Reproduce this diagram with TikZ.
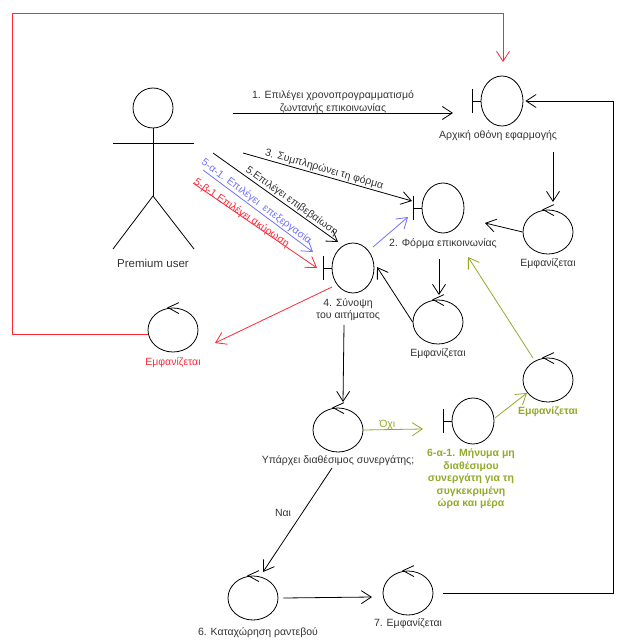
\documentclass[tikz,border=0pt]{standalone}
\usepackage{fontspec}
\setmainfont{Liberation Sans}
\usetikzlibrary{shapes.geometric,arrows.meta,positioning,calc}
\definecolor{okgreen}{RGB}{146,170,40}
\definecolor{editblue}{RGB}{112,112,255}
\definecolor{cancelred}{RGB}{255,40,55}
\definecolor{txtgray}{RGB}{51,51,51}

\tikzset{
  boundary/.style={draw, ellipse, minimum width=42pt, minimum height=50pt, inner sep=0pt,
    append after command={\pgfextra{\let\bnode\tikzlastnode
      \draw (\bnode.west) -- ++(-8pt,0pt) ++(0pt,12pt) -- ++(0pt,-24pt);}}},
  control/.style={draw, ellipse, minimum width=50pt, minimum height=44pt, inner sep=0pt,
    append after command={\pgfextra{\let\cnode\tikzlastnode
      \draw ([shift={(6pt,5pt)}]\cnode.north) -- ([xshift=-5pt]\cnode.north) -- ([shift={(6pt,-6pt)}]\cnode.north);}}},
  msg/.style={-{Straight Barb[length=10pt,width=13pt]}},
  caption/.style={text=txtgray, inner sep=1pt, align=center},
}

\begin{document}
\begin{tikzpicture}[x=1pt, y=-1pt, line width=0.8pt, font=\fontsize{10.5}{12.5}\selectfont]
\useasboundingbox (0,0) rectangle (628,644);

% actor
\node[circle, draw, minimum size=40pt, inner sep=0pt] (head) at (153,108) {};
\coordinate (hip) at (153,196);
\draw (head.south) -- (hip);
\draw ([shift={(-40,35)}]head.center) -- ++(81,0);
\draw ([shift={(-40,53)}]hip) -- (hip) -- ++(41,53);
\node[caption, font=\fontsize{11.5}{13}\selectfont] (user) at (153,263) {Premium user};

% boundaries
\node[boundary] (home) at (502,101) {};
\node[caption] (homelbl) at (498,136) {Αρχική οθόνη εφαρμογής};
\node[boundary] (form) at (443,208) {};
\node[caption] (formlbl) at (443,244) {2. Φόρμα επικοινωνίας};
\node[boundary] (summ) at (353,268) {};
\node[caption] (summlbl) at (348,309.5) {4. Σύνοψη\\του αιτήματος};
\node[boundary, minimum height=46pt] (nomsg) at (473,421) {};
\node[caption, text=okgreen, font=\bfseries\fontsize{10.5}{12.5}\selectfont] (nomsglbl) at (471,479)
  {6-α-1. Μήνυμα μη\\διαθέσιμου\\συνεργάτη για τη\\συγκεκριμένη\\ώρα και μέρα};

% controls
\node[control] (showA) at (548,232) {};
\node[caption] (showAlbl) at (548,264) {Εμφανίζεται};
\node[control] (showB) at (438,322) {};
\node[caption] (showBlbl) at (438,354) {Εμφανίζεται};
\node[control] (showR) at (173,330) {};
\node[caption, text=cancelred] (showRlbl) at (173,363) {Εμφανίζεται};
\node[control] (avail) at (338,430) {};
\node[caption] (availlbl) at (338,461) {Υπάρχει διαθέσιμος συνεργάτης;};
\node[control] (showG) at (548,380) {};
\node[caption, text=okgreen, font=\bfseries\fontsize{10.5}{12.5}\selectfont] (showGlbl) at (548,412) {Εμφανίζεται};
\node[control] (book) at (253,598) {};
\node[caption] (booklbl) at (258,633) {6. Καταχώρηση ραντεβού};
\node[control] (show7) at (408,593) {};
\node[caption] (show7lbl) at (408,624) {7. Εμφανίζεται};

% messages from the user
\coordinate (u1) at (233,113);
\coordinate (u3) at (243,153);
\coordinate (u5) at (213,153);
\coordinate (u5a) at (203,170);
\coordinate (u5b) at (193,183);
\draw[msg] (u1) -- ([shift={(-49,12)}]home.center);
\node[caption] (t1) at (333,102) {1. Επιλέγει χρονοπρογραμματισμό\\ζωντανής επικοινωνίας};
\draw[msg] (u3) -- node[pos=.47, sloped, above=0pt, caption] (t3) {3. Συμπληρώνει τη φόρμα} ([shift={(-31,-7)}]form.center);
\draw[msg] (u5) -- node[pos=.6, sloped, above=0pt, caption] (t5) {5.Επιλέγει επιβεβαίωση} ([shift={(-15,-26)}]summ.center);
\draw[msg, editblue] (u5a) -- node[pos=.45, sloped, above=0pt, caption, text=editblue] (t5a) {5-α-1. Επιλέγει~ επεξεργασία} ([shift={(-40,-16)}]summ.center);
\draw[msg, cancelred] (u5b) -- node[pos=.38, sloped, above=-4pt, caption, text=cancelred] (t5b) {5-β-1 Επιλέγει ακύρωση} ([shift={(-36,0)}]summ.center);

% flow between objects
\draw[msg] ([shift={(51,51)}]home.center) -- ([shift={(5,-30)}]showA.center);
\draw[msg] (showA.west) -- ([shift={(42,15)}]form.center);
\draw[msg] ([shift={(-4,51)}]form.center) -- ([shift={(1,-27)}]showB.center);
\draw[msg] (showB.west) -- ([shift={(24,-1)}]summ.center);
\draw[msg, editblue] ([shift={(20,-21)}]summ.center) -- ([shift={(-35,9)}]form.center);
\draw[msg, cancelred] ([shift={(-21,19)}]summ.center) -- ([shift={(42,13)}]showR.center);
\draw[msg] ([shift={(-9,57)}]summ.center) -- ([shift={(5,-28)}]avail.center);
\draw[msg, okgreen] (avail.east) -- node[pos=.4, above=-1pt, caption, text=okgreen] (tno) {Όχι} ([shift={(-50,8)}]nomsg.center);
\draw[msg, okgreen] ([shift={(22,-3)}]nomsg.center) -- ([shift={(-21,13)}]showG.center);
\draw[msg, okgreen] ([shift={(-15,-22)}]showG.center) -- ([shift={(25,49)}]form.center);
\draw[msg] ([shift={(-6,38)}]avail.center) -- ([shift={(10,-26)}]book.center);
\node[caption] (tyes) at (283,513) {Ναι};
\draw[msg] ([shift={(5,0)}]book.east) -- ([shift={(-36,4)}]show7.center);

% loops back to the start screen
\draw[msg] ([shift={(10,0)}]show7.east) -- ++(170,0) |- ([shift={(2,0)}]home.east);
\draw[msg, cancelred] ([shift={(0,4)}]showR.west) -- ++(-135,0) -- ++(0,-321) -| ([shift={(1,-39)}]home.center);
\end{tikzpicture}
\end{document}
